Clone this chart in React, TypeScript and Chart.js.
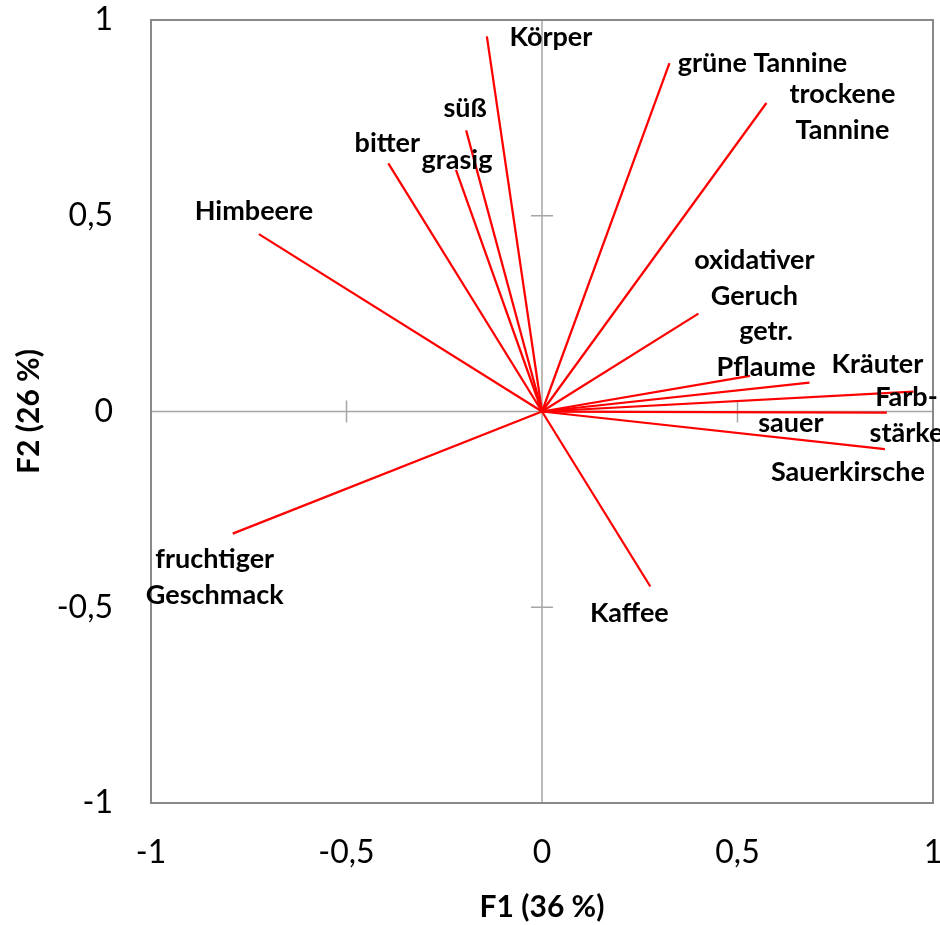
import React, { useEffect, useRef } from 'react';
import { Chart, registerables } from 'chart.js';

Chart.register(...registerables);

// ---- data ----
const variables = [
  'Körper',
  'grüne Tannine',
  'trockene Tannine',
  'süß',
  'bitter',
  'grasig',
  'Himbeere',
  'oxidativer Geruch',
  'getr. Pflaume',
  'Kräuter',
  'Farbstärke',
  'sauer',
  'Sauerkirsche',
  'Kaffee',
  'fruchtiger Geschmack',
];
const f1 = [-0.141, 0.326, 0.574, -0.194, -0.393, -0.22, -0.724, 0.4, 0.532, 0.684, 0.95, 0.882, 0.877, 0.277, -0.791];
const f2 = [0.958, 0.89, 0.788, 0.718, 0.634, 0.617, 0.453, 0.25, 0.091, 0.074, 0.051, -0.003, -0.096, -0.447, -0.312];

// label text as displayed (line breaks)
const labelLines: string[][] = [
  ['Körper'],
  ['grüne Tannine'],
  ['trockene', 'Tannine'],
  ['süß'],
  ['bitter'],
  ['grasig'],
  ['Himbeere'],
  ['oxidativer', 'Geruch'],
  ['getr.', 'Pflaume'],
  ['Kräuter'],
  ['Farb-', 'stärke'],
  ['sauer'],
  ['Sauerkirsche'],
  ['Kaffee'],
  ['fruchtiger', 'Geschmack'],
];

const tickValues = [-1, -0.5, 0, 0.5, 1];
const tickLabels = ['-1', '-0,5', '0', '0,5', '1'];
const xTitle = 'F1 (36 %)';
const yTitle = 'F2 (26 %)';

// ---- styles (label placement relative to vector tip, px) ----
const labelOffsets: [number, number][] = [
  [64, 10],
  [93, 9],
  [76, 0],
  [-1, -13],
  [-1, -11],
  [1, -1],
  [-5, -14],
  [56, -45],
  [16, -36],
  [68, -10],
  [-7, 14],
  [-96, 19],
  [-37, 32],
  [-21, 35],
  [-18, 34],
];
const LABEL_LINE_GAP = 36;
const LABEL_FONT = 'bold 27px Lato';

const framePlugin = {
  id: 'pcaFrame',
  beforeDatasetsDraw(chart: any) {
    const { ctx, chartArea: a, scales } = chart;
    const x = scales.x;
    const y = scales.y;
    const x0 = x.getPixelForValue(0);
    const y0 = y.getPixelForValue(0);
    ctx.save();
    ctx.strokeStyle = '#a6a6a6';
    ctx.lineWidth = 1.5;
    ctx.beginPath();
    ctx.moveTo(a.left, y0);
    ctx.lineTo(a.right, y0);
    ctx.moveTo(x0, a.top);
    ctx.lineTo(x0, a.bottom);
    tickValues
      .filter((v) => v !== 0 && Math.abs(v) !== 1)
      .forEach((v) => {
        const px = x.getPixelForValue(v);
        const py = y.getPixelForValue(v);
        ctx.moveTo(px, y0 - 11);
        ctx.lineTo(px, y0 + 11);
        ctx.moveTo(x0 - 11, py);
        ctx.lineTo(x0 + 11, py);
      });
    ctx.stroke();
    ctx.strokeStyle = '#898989';
    ctx.lineWidth = 2;
    ctx.strokeRect(a.left, a.top, a.right - a.left, a.bottom - a.top);
    ctx.restore();
  },
};

const labelPlugin = {
  id: 'pcaLabels',
  afterDatasetsDraw(chart: any) {
    const { ctx, scales } = chart;
    ctx.save();
    ctx.font = LABEL_FONT;
    ctx.fillStyle = '#000';
    ctx.textAlign = 'center';
    ctx.textBaseline = 'alphabetic';
    variables.forEach((_, i) => {
      const px = scales.x.getPixelForValue(f1[i]) + labelOffsets[i][0];
      const py = scales.y.getPixelForValue(f2[i]) + labelOffsets[i][1];
      labelLines[i].forEach((line, k) => {
        ctx.fillText(line, px, py + k * LABEL_LINE_GAP);
      });
    });
    ctx.restore();
  },
};

export default function App() {
  const ref = useRef<HTMLCanvasElement | null>(null);

  useEffect(() => {
    if (!ref.current) return;
    const datasets = variables.map((name, i) => ({
      type: 'line' as const,
      label: name,
      data: [
        { x: 0, y: 0 },
        { x: f1[i], y: f2[i] },
      ],
      borderColor: '#ff0000',
      borderWidth: 2.25,
      pointRadius: 0,
      fill: false,
      tension: 0,
    }));

    const tickCb = (v: any) => {
      const idx = tickValues.indexOf(Number(v));
      return idx >= 0 ? tickLabels[idx] : '';
    };

    const chart = new Chart(ref.current, {
      type: 'scatter',
      data: { datasets },
      options: {
        responsive: false,
        animation: false,
        devicePixelRatio: 1,
        layout: { padding: { top: 20, right: 27, bottom: 0, left: 0 } },
        plugins: {
          legend: { display: false },
          tooltip: { enabled: false },
        },
        scales: {
          x: {
            type: 'linear',
            min: -1,
            max: 1,
            afterBuildTicks: (s: any) => {
              s.ticks = tickValues.map((v) => ({ value: v }));
            },
            afterFit: (s: any) => {
              s.height = 122;
              s.paddingLeft = 0;
              s.paddingRight = 0;
            },
            ticks: {
              callback: tickCb,
              autoSkip: false,
              maxRotation: 0,
              padding: 30,
              color: '#000',
              font: { family: 'Lato', size: 32 },
            },
            grid: { display: false, drawTicks: false },
            border: { display: false },
            title: {
              display: true,
              text: xTitle,
              color: '#000',
              padding: 0,
              font: { family: 'Lato', size: 30, weight: 'bold' },
            },
          },
          y: {
            type: 'linear',
            min: -1,
            max: 1,
            afterBuildTicks: (s: any) => {
              s.ticks = tickValues.map((v) => ({ value: v }));
            },
            afterFit: (s: any) => {
              s.width = 151;
              s.paddingTop = 0;
              s.paddingBottom = 0;
            },
            ticks: {
              callback: tickCb,
              autoSkip: false,
              padding: 38,
              color: '#000',
              font: { family: 'Lato', size: 32 },
            },
            grid: { display: false, drawTicks: false },
            border: { display: false },
            title: {
              display: true,
              text: yTitle,
              color: '#000',
              padding: { top: 11, bottom: 0 },
              font: { family: 'Lato', size: 30, weight: 'bold' },
            },
          },
        },
      } as any,
      plugins: [framePlugin, labelPlugin],
    });

    let alive = true;
    if ((document as any).fonts?.ready) {
      (document as any).fonts.ready.then(() => {
        if (alive) chart.update();
      });
    }
    return () => {
      alive = false;
      chart.destroy();
    };
  }, []);

  return (
    <div
      style={{
        position: 'absolute',
        left: 0,
        top: 0,
        width: 940,
        height: 925,
        overflow: 'hidden',
        background: '#fff',
      }}
    >
      <canvas ref={ref} width={960} height={925} style={{ display: 'block', width: 960, height: 925 }} />
    </div>
  );
}
